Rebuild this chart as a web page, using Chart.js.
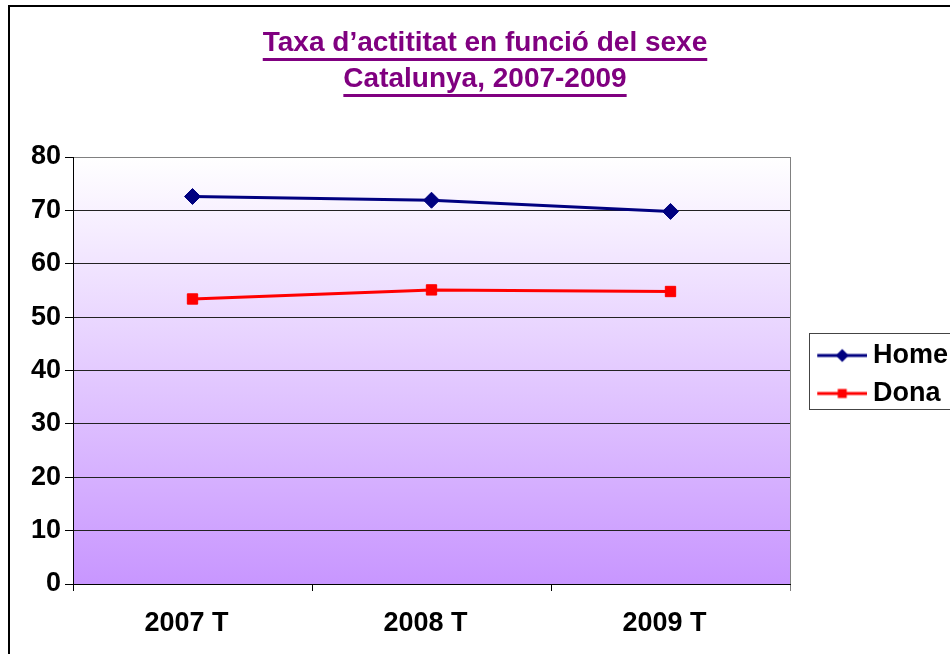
<!DOCTYPE html>
<html>
<head>
<meta charset="utf-8">
<script src="https://cdn.jsdelivr.net/npm/chart.js@4.4.0/dist/chart.umd.min.js"></script>
<style>
    html, body { margin: 0; padding: 0; background: #fff; }
    #wrap { width: 950px; height: 654px; overflow: hidden; position: relative; }
    #chart { position: absolute; left: 0; top: 0; }
</style>
</head>
<body>
<div id="wrap"><canvas id="chart" width="962" height="660"></canvas></div>
<script>
// data
const titleLines = ['Taxa d’actititat en funció del sexe', 'Catalunya, 2007-2009'];
const periods = ['2007 T', '2008 T', '2009 T'];
const seriesNames = ['Home', 'Dona'];
const homeValues = [72.6, 71.9, 69.8];
const donaValues = [53.4, 55.1, 54.8];
const yTicks = [0, 10, 20, 30, 40, 50, 60, 70, 80];

const FONT = '"Liberation Sans", Arial, sans-serif';
const TITLE_SIZE = 28;
const TITLE_LH = 36;
const TITLE_PAD_TOP = 25;

// line + marker symbol for the legend (transparent left margin shifts it into place)
function legendSymbol(color, shape) {
    const c = document.createElement('canvas');
    c.width = 74;
    c.height = 16;
    const g = c.getContext('2d');
    g.strokeStyle = color;
    g.fillStyle = color;
    g.lineWidth = 3;
    g.beginPath();
    g.moveTo(24, 8);
    g.lineTo(74, 8);
    g.stroke();
    if (shape === 'diamond') {
        g.beginPath();
        g.moveTo(49, 1.5);
        g.lineTo(55.5, 8);
        g.lineTo(49, 14.5);
        g.lineTo(42.5, 8);
        g.closePath();
        g.fill();
    } else {
        g.fillRect(44.5, 3.5, 9, 9);
    }
    return c;
}
const legendSymbols = [legendSymbol('#000080', 'diamond'), legendSymbol('#ff0000', 'square')];

const backdrop = {
    id: 'backdrop',
    beforeDraw(chart) {
        const { ctx, chartArea: a } = chart;
        ctx.save();
        ctx.fillStyle = '#fff';
        ctx.fillRect(0, 0, chart.width, chart.height);
        const grad = ctx.createLinearGradient(0, a.top, 0, a.bottom);
        grad.addColorStop(0, '#ffffff');
        grad.addColorStop(1, '#c896ff');
        ctx.fillStyle = grad;
        ctx.fillRect(a.left, a.top, a.right - a.left, a.bottom - a.top);
        // outer frame of the chart object
        ctx.strokeStyle = '#000';
        ctx.lineWidth = 2;
        ctx.strokeRect(9, 6, chart.width, chart.height);
        ctx.restore();
    },
    afterDraw(chart) {
        const { ctx } = chart;
        ctx.save();
        // underline the title lines
        const t = chart.titleBlock;
        ctx.font = 'bold ' + TITLE_SIZE + 'px ' + FONT;
        ctx.fillStyle = '#800080';
        const cx = (t.left + t.right) / 2;
        titleLines.forEach((line, i) => {
            const w = ctx.measureText(line).width;
            const y = t.top + TITLE_PAD_TOP + TITLE_LH / 2 + i * TITLE_LH + 15;
            ctx.fillRect(cx - w / 2, y, w, 3);
        });
        // legend frame
        const hb = chart.legend.legendHitBoxes;
        if (hb && hb.length) {
            const top = hb[0].top - 9;
            const bottom = hb[hb.length - 1].top + hb[hb.length - 1].height + 2;
            ctx.strokeStyle = '#444';
            ctx.lineWidth = 1;
            ctx.strokeRect(chart.legend.left + 19.5, top + 0.5, 200, bottom - top);
        }
        ctx.restore();
    }
};

const ctx = document.getElementById('chart');
new Chart(ctx, {
    type: 'line',
    data: {
        labels: periods,
        datasets: [
            {
                label: seriesNames[0],
                data: homeValues,
                borderColor: '#000080',
                backgroundColor: '#000080',
                borderWidth: 3,
                pointStyle: 'rectRot',
                pointRadius: 8,
                pointBorderWidth: 1,
                pointBackgroundColor: '#000080',
                pointBorderColor: '#000080',
                tension: 0,
            },
            {
                label: seriesNames[1],
                data: donaValues,
                borderColor: '#ff0000',
                backgroundColor: '#ff0000',
                borderWidth: 3,
                pointStyle: 'rect',
                pointRadius: 7.3,
                pointBorderWidth: 1,
                pointBackgroundColor: '#ff0000',
                pointBorderColor: '#ff0000',
                tension: 0,
            },
        ],
    },
    options: {
        responsive: false,
        animation: false,
        devicePixelRatio: 1,
        layout: { padding: { left: 20, right: 12, top: 0, bottom: 0 } },
        scales: {
            x: {
                type: 'category',
                offset: true,
                grid: {
                    offset: true,
                    drawOnChartArea: true,
                    color: (c) => (c.type === 'scale' ? '#808080' : 'rgba(0,0,0,0)'),
                    tickColor: (c) => (c.type === 'scale' ? '#808080' : '#000'),
                    tickLength: 7,
                },
                border: { color: '#000', width: 1 },
                ticks: {
                    color: '#000',
                    padding: 16,
                    labelOffset: -6,
                    maxRotation: 0,
                    font: { family: FONT, size: 27, weight: 'bold' },
                },
                afterFit(scale) { scale.height = 76; },
            },
            y: {
                min: 0,
                max: 80,
                afterBuildTicks(scale) { scale.ticks = yTicks.map((v) => ({ value: v })); },
                grid: {
                    color: (c) => (c.tick && c.tick.value === 80 ? '#808080' : '#222'),
                    tickColor: '#000',
                    tickLength: 8,
                    lineWidth: 1,
                },
                border: { color: '#000', width: 1 },
                ticks: {
                    color: '#000',
                    padding: 4,
                    font: { family: FONT, size: 27, weight: 'bold' },
                },
                afterFit(scale) { scale.width = 53; },
            },
        },
        plugins: {
            title: {
                display: true,
                text: titleLines,
                color: '#800080',
                font: { family: FONT, size: TITLE_SIZE, weight: 'bold', lineHeight: TITLE_LH + 'px' },
                padding: { top: TITLE_PAD_TOP, bottom: 157 - TITLE_PAD_TOP - 2 * TITLE_LH },
            },
            legend: {
                position: 'right',
                align: 'center',
                fullSize: false,
                maxWidth: 160,
                // blank spacer title nudges the items down a few pixels
                title: { display: true, text: ' ', color: '#000', padding: 0, font: { size: 8, lineHeight: '8px' } },
                labels: {
                    usePointStyle: true,
                    pointStyleWidth: 58.5,
                    padding: 11,
                    color: '#000',
                    font: { family: FONT, size: 27, weight: 'bold' },
                    generateLabels: (chart) => chart.data.datasets.map((ds, i) => ({
                        text: ds.label,
                        fontColor: '#000',
                        pointStyle: legendSymbols[i],
                        fillStyle: ds.borderColor,
                        strokeStyle: ds.borderColor,
                        lineWidth: 0,
                        hidden: false,
                        datasetIndex: i,
                    })),
                },
            },
            tooltip: { enabled: false },
        },
    },
    plugins: [backdrop],
});
</script>
</body>
</html>
